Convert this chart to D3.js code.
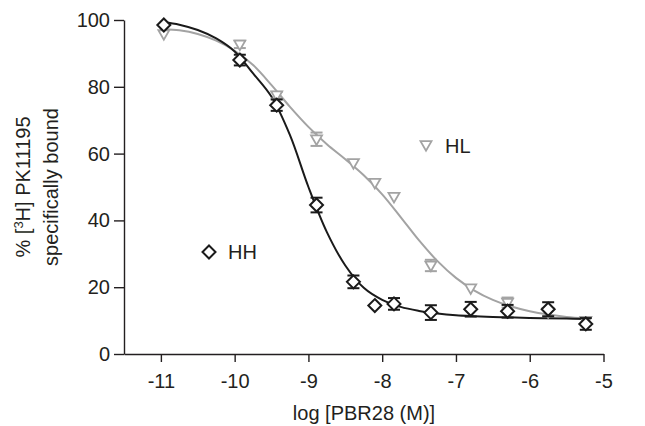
<!DOCTYPE html>
<html>
<head>
<meta charset="utf-8">
<script src="https://cdn.jsdelivr.net/npm/d3@7"></script>
<style>
  html, body { margin: 0; padding: 0; background: #fff; }
  svg { display: block; }
  text { font-family: "Liberation Sans", Arial, Helvetica, sans-serif; fill: #231f20; }
</style>
</head>
<body>
<svg id="chart" width="645" height="426"></svg>
<script>
// ---- data ----
const xTicks = [-11, -10, -9, -8, -7, -6, -5];
const yTicks = [0, 20, 40, 60, 80, 100];

const logConc = [-10.96, -9.93, -9.43, -8.89, -8.39, -8.10, -7.84, -7.34, -6.80, -6.30, -5.75, -5.24];

const hhMean = [98.5, 88.0, 74.5, 44.6, 21.6, 14.5, 15.0, 12.4, 13.4, 12.8, 13.4, 9.0];
const hhErr  = [0,    1.6,  1.7,  2.2,  1.9,  0,    1.75, 2.2,  2.2,  1.9,  2.1,  1.75];

const hlMean = [95.8, 92.7, 77.5, 64.3, 57.2, 51.3, 47.1, 26.5, 19.7, 15.4, 12.5, 10.0];
const hlErr  = [0,    1.1,  1.0,  2.0,  0,    0,    0,    1.7,  0,    1.5,  0,    0];

// fitted curves
const hhCurveX = [-10.96, -10.75, -10.5, -10.25, -10.0, -9.75, -9.5, -9.25, -9.0, -8.75, -8.5, -8.25, -8.0, -7.75, -7.5, -7.25, -7.0, -6.5, -6.0, -5.5, -5.24];
const hhCurveY = [99.3, 98.6, 97.0, 94.5, 90.6, 84.0, 77.0, 65.5, 50.0, 36.5, 26.5, 19.8, 16.2, 14.1, 12.9, 12.1, 11.6, 11.1, 10.8, 10.6, 10.5];

const hlCurveX = [-10.96, -10.75, -10.5, -10.25, -10.0, -9.75, -9.5, -9.25, -9.0, -8.75, -8.5, -8.25, -8.0, -7.75, -7.5, -7.25, -7.0, -6.75, -6.5, -6.25, -6.0, -5.75, -5.5, -5.24];
const hlCurveY = [97.2, 96.9, 95.8, 93.8, 90.8, 86.5, 80.5, 74.0, 68.0, 62.8, 58.3, 53.5, 47.8, 41.0, 34.0, 27.8, 22.8, 19.0, 16.2, 14.2, 12.8, 11.8, 11.1, 10.7];

const seriesNames = ["HH", "HL"];

// ---- drawing ----
const svg = d3.select("#chart");
const x = d3.scaleLinear().domain([-11.5, -5]).range([124, 603.5]);
const y = d3.scaleLinear().domain([0, 100]).range([354, 20]);

const black = "#1a1a1a";
const gray = "#a3a3a3";

// axes
const gx = svg.append("g").attr("transform", "translate(0,354)")
  .call(d3.axisBottom(x).tickValues(xTicks).tickSize(8).tickPadding(12).tickSizeOuter(0).tickFormat(d3.format("d")));
const gy = svg.append("g").attr("transform", "translate(124,0)")
  .call(d3.axisLeft(y).tickValues(yTicks).tickSize(10).tickPadding(4).tickSizeOuter(0));
[gx, gy].forEach(g => {
  g.selectAll("path.domain").attr("stroke", "#231f20").attr("stroke-width", 1.4);
  g.selectAll(".tick line").attr("stroke", "#231f20").attr("stroke-width", 1.4);
  g.selectAll(".tick text").attr("font-size", 20).attr("font-family", "Liberation Sans, Arial, sans-serif").attr("fill", "#231f20");
});
gx.selectAll(".tick text").text(d => d3.format("d")(d).replace("−", "-"));

// axis titles
svg.append("text").attr("x", 364).attr("y", 420).attr("text-anchor", "middle")
  .attr("font-size", 20).text("log [PBR28 (M)]");

const yl = svg.append("text").attr("text-anchor", "middle")
  .attr("transform", "translate(30,187) rotate(-90)").attr("font-size", 20);
yl.append("tspan").text("% [");
yl.append("tspan").attr("font-size", 13).attr("dy", -7).text("3");
yl.append("tspan").attr("dy", 7).text("H]  PK11195");
svg.append("text").attr("text-anchor", "middle")
  .attr("transform", "translate(58,187) rotate(-90)").attr("font-size", 20)
  .text("specifically bound");

// curves
const line = d3.line().x(d => x(d[0])).y(d => y(d[1])).curve(d3.curveCatmullRom.alpha(0.5));
svg.append("path").datum(d3.zip(hlCurveX, hlCurveY)).attr("d", line)
  .attr("fill", "none").attr("stroke", gray).attr("stroke-width", 2);
svg.append("path").datum(d3.zip(hhCurveX, hhCurveY)).attr("d", line)
  .attr("fill", "none").attr("stroke", black).attr("stroke-width", 2);

// marker shapes
function triPath(cx, cy) {
  const w = 5.5, h = 9.5;
  return `M${cx - w},${cy - h * 0.4}L${cx + w},${cy - h * 0.4}L${cx},${cy + h * 0.6}Z`;
}
function diaPath(cx, cy) {
  const r = 6.5;
  return `M${cx},${cy - r}L${cx + r},${cy}L${cx},${cy + r}L${cx - r},${cy}Z`;
}

function drawSeries(means, errs, color, shapeFn, sw) {
  const g = svg.append("g");
  logConc.forEach((lx, i) => {
    const cx = x(lx), cy = y(means[i]);
    if (errs[i] > 0) {
      const y1 = y(means[i] + errs[i]), y2 = y(means[i] - errs[i]);
      g.append("line").attr("x1", cx).attr("x2", cx).attr("y1", y1).attr("y2", y2)
        .attr("stroke", color).attr("stroke-width", 1.6);
      [y1, y2].forEach(yy => g.append("line").attr("x1", cx - 6).attr("x2", cx + 6)
        .attr("y1", yy).attr("y2", yy).attr("stroke", color).attr("stroke-width", 2));
    }
    g.append("path").attr("d", shapeFn(cx, cy)).attr("fill", "#fff")
      .attr("stroke", color).attr("stroke-width", sw).attr("stroke-linejoin", "miter");
  });
}
drawSeries(hlMean, hlErr, gray, triPath, 1.8);
drawSeries(hhMean, hhErr, black, diaPath, 2);

// legends
svg.append("path").attr("d", triPath(426, 145)).attr("fill", "#fff").attr("stroke", gray).attr("stroke-width", 1.8);
svg.append("text").attr("x", 445).attr("y", 153).attr("font-size", 20).text(seriesNames[1]);
svg.append("path").attr("d", diaPath(209, 252)).attr("fill", "#fff").attr("stroke", black).attr("stroke-width", 2);
svg.append("text").attr("x", 228).attr("y", 259).attr("font-size", 20).text(seriesNames[0]);
</script>
</body>
</html>
